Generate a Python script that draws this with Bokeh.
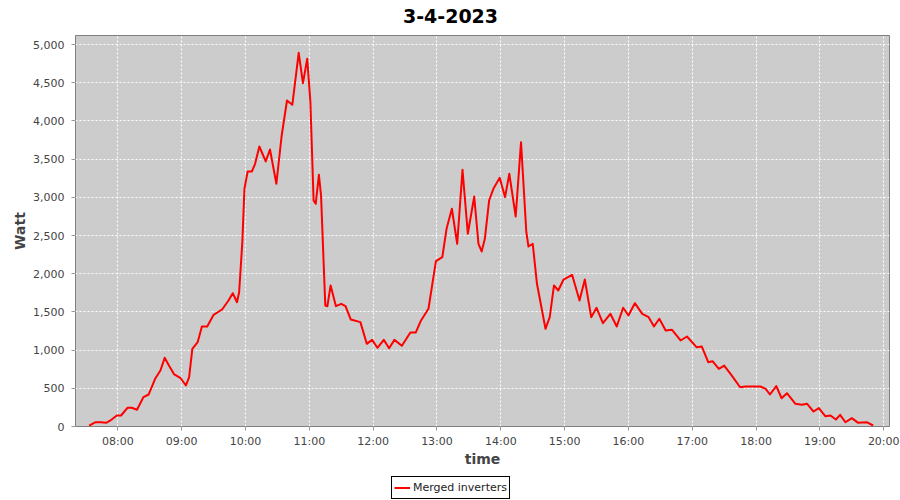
import pandas as pd
from bokeh.plotting import figure
from bokeh.layouts import column
from bokeh.models import (Range1d, FixedTicker, DatetimeTickFormatter, Label,
                          NumeralTickFormatter, Legend, LegendItem, ColumnDataSource)
from bokeh.embed import file_html
from bokeh.resources import INLINE

DAY = "2023-04-03"
TITLE = "3-4-2023"
SERIES = "Merged inverters"

times = ["07:33", "07:39", "07:44", "07:49", "07:53", "07:59", "08:03", "08:09", "08:13", "08:18",
         "08:24", "08:29", "08:35", "08:40", "08:44", "08:48", "08:53", "08:59", "09:04", "09:07",
         "09:10", "09:15", "09:19", "09:24", "09:30", "09:35", "09:38", "09:44", "09:48", "09:52",
         "09:54", "09:57", "09:59", "10:02", "10:06", "10:09", "10:13", "10:19", "10:23", "10:29",
         "10:34", "10:39", "10:44", "10:50", "10:54", "10:58", "11:01", "11:04", "11:06", "11:09",
         "11:11", "11:15", "11:17", "11:20", "11:25", "11:30", "11:34", "11:39", "11:48", "11:54",
         "11:59", "12:04", "12:10", "12:15", "12:20", "12:27", "12:35", "12:40", "12:45", "12:52",
         "12:59", "13:05", "13:09", "13:14", "13:19", "13:24", "13:29", "13:35", "13:39", "13:42",
         "13:45", "13:49", "13:53", "13:59", "14:04", "14:08", "14:14", "14:19", "14:24", "14:26",
         "14:30", "14:34", "14:42", "14:46", "14:50", "14:54", "14:59", "15:07", "15:14", "15:19",
         "15:25", "15:30", "15:36", "15:43", "15:49", "15:55", "16:00", "16:06", "16:13", "16:19",
         "16:24", "16:29", "16:35", "16:41", "16:49", "16:55", "17:04", "17:09", "17:15", "17:19",
         "17:25", "17:30", "17:37", "17:45", "17:50", "18:04", "18:09", "18:13", "18:19", "18:24",
         "18:29", "18:37", "18:43", "18:48", "18:54", "18:59", "19:05", "19:10", "19:15", "19:19",
         "19:24", "19:30", "19:36", "19:44", "19:50"]

watts = [10, 56, 56, 48, 79, 144, 144, 245, 245, 219,
         384, 419, 624, 733, 899, 798, 681, 632, 537, 645,
         1017, 1104, 1309, 1309, 1462, 1505, 1532, 1649, 1745, 1627,
         1758, 2413, 3111, 3338, 3338, 3439, 3665, 3469, 3626, 3177,
         3809, 4267, 4211, 4892, 4494, 4813, 4245, 2958, 2915, 3295,
         3024, 1584, 1575, 1846, 1575, 1606, 1575, 1400, 1366, 1082,
         1134, 1030, 1134, 1025, 1134, 1056, 1230, 1230, 1388, 1541,
         2164, 2216, 2588, 2850, 2392, 3360, 2523, 3011, 2392, 2291,
         2457, 2958, 3111, 3255, 3002, 3308, 2749, 3722, 2543, 2356,
         2392, 1868, 1279, 1431, 1846, 1780, 1924, 1986, 1649, 1924,
         1431, 1554, 1352, 1475, 1309, 1554, 1453, 1614, 1475, 1431,
         1309, 1410, 1257, 1266, 1126, 1178, 1038, 1047, 842, 855,
         755, 798, 668, 514, 524, 524, 493, 419, 528, 370,
         436, 297, 284, 297, 196, 240, 135, 144, 92, 153,
         56, 109, 48, 56, 13]

x_tick_labels = ["08:00", "09:00", "10:00", "11:00", "12:00", "13:00", "14:00",
                 "15:00", "16:00", "17:00", "18:00", "19:00", "20:00"]
y_ticks = [0, 500, 1000, 1500, 2000, 2500, 3000, 3500, 4000, 4500, 5000]
x_start, x_end = "07:20:10", "20:05:25"
y_max = 5118

src = ColumnDataSource(dict(t=pd.to_datetime([f"{DAY} {t}" for t in times]), w=watts))
xt = [pd.Timestamp(f"{DAY} {s}").value // 10**6 for s in x_tick_labels]

FONT = "DejaVu Sans"


def strip(height):
    s = figure(width=900, height=height, output_backend="svg", toolbar_location=None, title=None,
               x_range=Range1d(0, 1), y_range=Range1d(0, 1),
               x_axis_location=None, y_axis_location=None,
               min_border_left=75, min_border_right=11, min_border_top=0, min_border_bottom=0,
               background_fill_color="white", border_fill_color="white", outline_line_color=None)
    s.xgrid.visible = False
    s.ygrid.visible = False
    return s


# title strip
top = strip(35)
top.add_layout(Label(x=375, y=20, x_units="screen", y_units="screen", text=TITLE,
                     text_align="center", text_baseline="alphabetic", text_font=FONT,
                     text_font_size="19px", text_font_style="bold", text_color="black"))

# main chart
fig = figure(width=900, height=439, x_axis_type="datetime", output_backend="svg",
             toolbar_location=None, title=None,
             x_range=Range1d(pd.Timestamp(f"{DAY} {x_start}"), pd.Timestamp(f"{DAY} {x_end}")),
             y_range=Range1d(0, y_max),
             min_border_left=75, min_border_right=11, min_border_top=0, min_border_bottom=48,
             background_fill_color="#cccccc", border_fill_color="white",
             outline_line_color="#808080", outline_line_width=1)

fig.line(x="t", y="w", source=src, line_color="#ff0000", line_width=2, line_join="round")

fig.xaxis.ticker = FixedTicker(ticks=xt)
fig.xaxis.formatter = DatetimeTickFormatter(minutes="%H:%M", hourmin="%H:%M", hours="%H:%M",
                                            days="%H:%M", minsec="%H:%M")
fig.yaxis.ticker = FixedTicker(ticks=y_ticks)
fig.yaxis.formatter = NumeralTickFormatter(format="0,0")
fig.xaxis.axis_label = "time"
fig.yaxis.axis_label = "Watt"

for ax in (fig.xaxis[0], fig.yaxis[0]):
    ax.axis_line_color = None
    ax.major_tick_line_color = "#999999"
    ax.major_tick_out = 4
    ax.major_tick_in = 0
    ax.minor_tick_line_color = None
    ax.major_label_text_font = FONT
    ax.major_label_text_font_size = "11px"
    ax.major_label_text_color = "#444444"
    ax.axis_label_text_font = FONT
    ax.axis_label_text_font_size = "14px"
    ax.axis_label_text_font_style = "bold"
    ax.axis_label_text_color = "#444444"
fig.xaxis.major_label_standoff = 4
fig.xaxis.axis_label_standoff = 0
fig.yaxis.major_label_standoff = 7
fig.yaxis.axis_label_standoff = 2

fig.xgrid.ticker = FixedTicker(ticks=xt)
fig.ygrid.ticker = FixedTicker(ticks=y_ticks)
for g in (fig.xgrid[0], fig.ygrid[0]):
    g.grid_line_color = "white"
    g.grid_line_dash = "2 2"
    g.grid_line_width = 1

# legend strip below the chart
leg = strip(26)
r2 = leg.line(x=[-5, -4], y=[-5, -4], line_color="#ff0000", line_width=2)
legend = Legend(items=[LegendItem(label=SERIES, renderers=[r2])],
                location=(316, 1), orientation="horizontal",
                border_line_color="black", border_line_width=1, border_line_alpha=1,
                background_fill_color="white", background_fill_alpha=1,
                padding=2, spacing=0, margin=0, glyph_width=16, glyph_height=17,
                label_height=17, label_standoff=3, label_text_font=FONT,
                label_text_font_size="11px", label_text_color="#222222")
leg.add_layout(legend, "center")

p = column(top, fig, leg, spacing=0)
open("out.html", "w").write(file_html(p, INLINE))
